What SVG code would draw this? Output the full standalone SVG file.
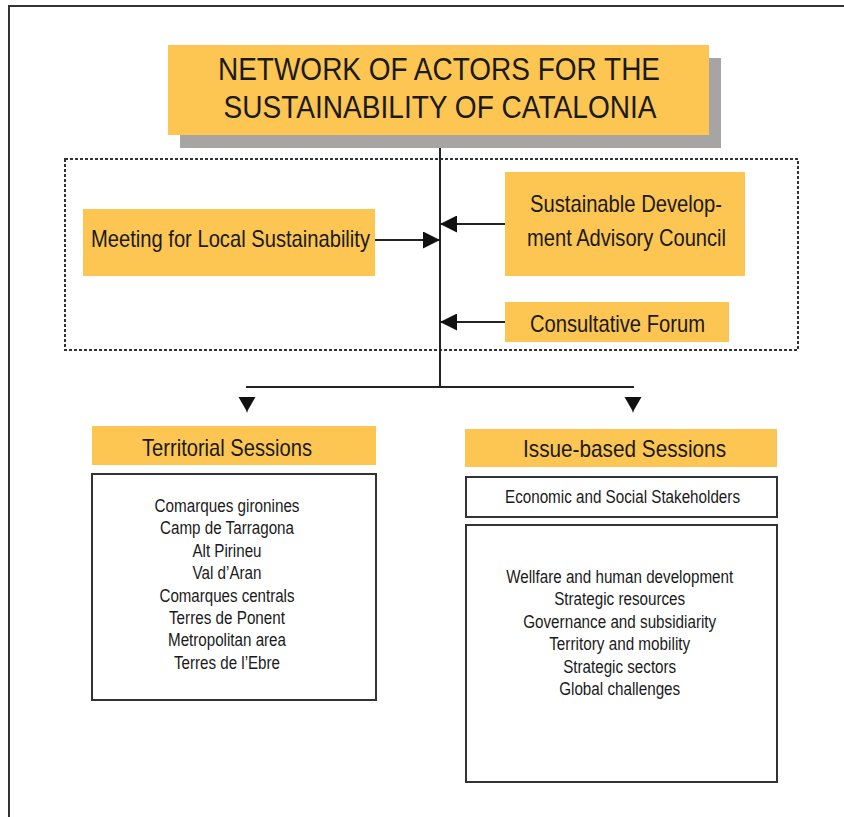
<svg xmlns="http://www.w3.org/2000/svg" width="844" height="817" viewBox="0 0 844 817">
<defs>
<style>
.y{fill:#FDC552;}
.t{font-family:"Liberation Sans",Arial,sans-serif;fill:#1a1a1a;}
.big{font-size:31px;}
.mid{font-size:24px;}
.sm{font-size:17.5px;}
.box{fill:#fff;stroke:#333;stroke-width:2;}
.ln{stroke:#222;stroke-width:2;fill:none;}
</style>
<marker id="ah" viewBox="0 0 10 10" refX="10" refY="5" markerWidth="17" markerHeight="17" markerUnits="userSpaceOnUse" orient="auto">
<path d="M0,0 L10,5 L0,10 z" fill="#111"/>
</marker>
</defs>
<rect width="844" height="817" fill="#fff"/>
<path d="M9,817 V6 H844" fill="none" stroke="#333" stroke-width="2"/>

<g id="title">
<rect x="180" y="58" width="541" height="90" fill="#A6A5A3"/>
<rect class="y" x="168" y="45" width="541" height="90"/>
<text class="t big" x="439" y="79.5" text-anchor="middle" textLength="442" lengthAdjust="spacingAndGlyphs">NETWORK OF ACTORS FOR THE</text>
<text class="t big" x="440" y="117.5" text-anchor="middle" textLength="433" lengthAdjust="spacingAndGlyphs">SUSTAINABILITY OF CATALONIA</text>
</g>

<g id="group-frame">
<rect x="65" y="159" width="733" height="191" fill="none" stroke="#333" stroke-width="2" stroke-dasharray="3,2"/>
</g>

<g id="meeting">
<rect class="y" x="83" y="209" width="292" height="67"/>
<text class="t mid" x="230.5" y="247" text-anchor="middle" textLength="279" lengthAdjust="spacingAndGlyphs">Meeting for Local Sustainability</text>
</g>

<g id="sdac">
<rect class="y" x="505" y="172" width="240" height="104"/>
<text class="t mid" x="626" y="212" text-anchor="middle" textLength="192" lengthAdjust="spacingAndGlyphs">Sustainable Develop-</text>
<text class="t mid" x="626.5" y="246" text-anchor="middle" textLength="199" lengthAdjust="spacingAndGlyphs">ment Advisory Council</text>
</g>

<g id="forum">
<rect class="y" x="505" y="302" width="224" height="40"/>
<text class="t mid" x="617.5" y="331.5" text-anchor="middle" textLength="175" lengthAdjust="spacingAndGlyphs">Consultative Forum</text>
</g>

<g id="connectors">
<line class="ln" x1="440" y1="148" x2="440" y2="388"/>
<line class="ln" x1="246" y1="387" x2="634" y2="387"/>
<line class="ln" x1="375" y1="240" x2="440" y2="240" marker-end="url(#ah)"/>
<line class="ln" x1="505" y1="224" x2="440" y2="224" marker-end="url(#ah)"/>
<line class="ln" x1="505" y1="322" x2="440" y2="322" marker-end="url(#ah)"/>
<path d="M238.5,397 L255.5,397 L248,410 L247,413 L246,410 z" fill="#111"/>
<path d="M624.5,397 L641.5,397 L634,410 L633,413 L632,410 z" fill="#111"/>
</g>

<g id="territorial">
<rect class="y" x="92" y="426" width="284" height="39"/>
<text class="t mid" x="227" y="456" text-anchor="middle" textLength="170" lengthAdjust="spacingAndGlyphs">Territorial Sessions</text>
</g>

<g id="territorial-list">
<rect class="box" x="92" y="474" width="284" height="226"/>
<g class="t sm" text-anchor="middle">
<text x="227" y="511.5" textLength="145" lengthAdjust="spacingAndGlyphs">Comarques gironines</text>
<text x="227" y="533.5" textLength="134" lengthAdjust="spacingAndGlyphs">Camp de Tarragona</text>
<text x="227" y="556.5" textLength="69" lengthAdjust="spacingAndGlyphs">Alt Pirineu</text>
<text x="227" y="578.5" textLength="69" lengthAdjust="spacingAndGlyphs">Val d’Aran</text>
<text x="227" y="601.5" textLength="135" lengthAdjust="spacingAndGlyphs">Comarques centrals</text>
<text x="227" y="623.5" textLength="116" lengthAdjust="spacingAndGlyphs">Terres de Ponent</text>
<text x="227" y="645.5" textLength="118" lengthAdjust="spacingAndGlyphs">Metropolitan area</text>
<text x="227" y="668.5" textLength="106" lengthAdjust="spacingAndGlyphs">Terres de l’Ebre</text>
</g>
</g>

<g id="issue">
<rect class="y" x="465" y="429" width="312" height="38"/>
<text class="t mid" x="624.5" y="457" text-anchor="middle" textLength="203" lengthAdjust="spacingAndGlyphs">Issue-based Sessions</text>
</g>

<g id="stakeholders">
<rect class="box" x="466" y="477" width="311" height="40"/>
<text class="t sm" x="622.5" y="502.5" text-anchor="middle" textLength="235" lengthAdjust="spacingAndGlyphs">Economic and Social Stakeholders</text>
</g>

<g id="issue-list">
<rect class="box" x="466" y="525" width="311" height="257"/>
<g class="t sm" text-anchor="middle">
<text x="619.7" y="582.5" textLength="227" lengthAdjust="spacingAndGlyphs">Wellfare and human development</text>
<text x="619.7" y="604.5" textLength="131" lengthAdjust="spacingAndGlyphs">Strategic resources</text>
<text x="619.7" y="627.5" textLength="193" lengthAdjust="spacingAndGlyphs">Governance and subsidiarity</text>
<text x="619.7" y="649.5" textLength="141" lengthAdjust="spacingAndGlyphs">Territory and mobility</text>
<text x="619.7" y="672.5" textLength="113" lengthAdjust="spacingAndGlyphs">Strategic sectors</text>
<text x="619.7" y="694.5" textLength="121" lengthAdjust="spacingAndGlyphs">Global challenges</text>
</g>
</g>
</svg>
